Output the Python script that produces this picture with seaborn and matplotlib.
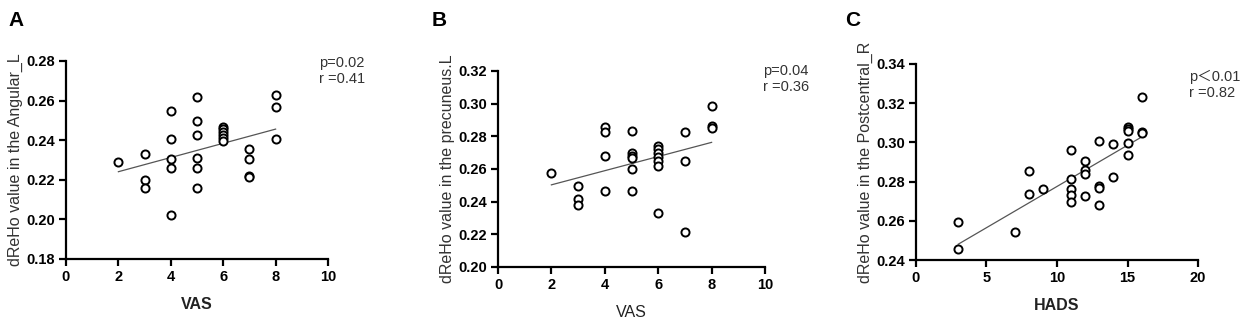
import numpy as np
import pandas as pd
import matplotlib
matplotlib.use("Agg")
import matplotlib.pyplot as plt
import seaborn as sns

# panel A: VAS vs dReHo (Angular_L)
vas_a = [2, 3, 3, 3, 4, 4, 4, 4, 4, 5, 5, 5, 5, 5, 5,
         6, 6, 6, 6, 6, 6, 7, 7, 7, 7, 8, 8, 8]
reho_a = [0.2288, 0.2330, 0.2200, 0.2157, 0.2546, 0.2406, 0.2303, 0.2261, 0.2022,
          0.2618, 0.2495, 0.2425, 0.2312, 0.2261, 0.2160,
          0.2468, 0.2455, 0.2440, 0.2425, 0.2410, 0.2395,
          0.2354, 0.2307, 0.2221, 0.2216, 0.2630, 0.2568, 0.2406]

# panel B: VAS vs dReHo (precuneus.L)
vas_b = [2, 3, 3, 3, 4, 4, 4, 4, 5, 5, 5, 5, 5, 5,
         6, 6, 6, 6, 6, 6, 6, 7, 7, 7, 8, 8, 8]
reho_b = [0.2574, 0.2497, 0.2418, 0.2381, 0.2860, 0.2829, 0.2682, 0.2467,
          0.2833, 0.2697, 0.2682, 0.2666, 0.2603, 0.2467,
          0.2742, 0.2721, 0.2701, 0.2672, 0.2646, 0.2619, 0.2328,
          0.2829, 0.2648, 0.2216, 0.2986, 0.2864, 0.2854]

# panel C: HADS vs dReHo (Postcentral_R)
hads_c = [3, 3, 7, 8, 8, 9, 11, 11, 11, 11, 11, 12, 12, 12, 12,
          13, 13, 13, 13, 14, 14, 15, 15, 15, 15, 15, 16, 16, 16]
reho_c = [0.2596, 0.2458, 0.2543, 0.2855, 0.2736, 0.2761,
          0.2959, 0.2813, 0.2761, 0.2732, 0.2698,
          0.2903, 0.2860, 0.2840, 0.2726,
          0.3005, 0.2778, 0.2766, 0.2679,
          0.2993, 0.2824,
          0.3081, 0.3068, 0.3056, 0.2999, 0.2935,
          0.3230, 0.3051, 0.3047]

plt.rcParams['font.family'] = ['Liberation Sans', 'Noto Sans CJK SC', 'DejaVu Sans']

W, H = 1248, 325
fig = plt.figure(figsize=(W / 100, H / 100), dpi=100)

panels = [
    dict(letter="A", x=vas_a, y=reho_a, xlab="VAS", xbold=True,
         ylab="dReHo value in the Angular_L", xlim=(0, 10), xt=[0, 2, 4, 6, 8, 10],
         ylim=(0.18, 0.28), yt=[0.18, 0.20, 0.22, 0.24, 0.26, 0.28],
         stats="p=0.02\nr =0.41", box=(66, 61, 328, 259), letter_x=8, stat_x=319, stat_y=56),
    dict(letter="B", x=vas_b, y=reho_b, xlab="VAS", xbold=False,
         ylab="dReHo value in the precuneus.L", xlim=(0, 10), xt=[0, 2, 4, 6, 8, 10],
         ylim=(0.20, 0.32), yt=[0.20, 0.22, 0.24, 0.26, 0.28, 0.30, 0.32],
         stats="p=0.04\nr =0.36", box=(498, 71, 765, 267), letter_x=432, stat_x=763, stat_y=64),
    dict(letter="C", x=hads_c, y=reho_c, xlab="HADS", xbold=True,
         ylab="dReHo value in the Postcentral_R", xlim=(0, 20), xt=[0, 5, 10, 15, 20],
         ylim=(0.24, 0.34), yt=[0.24, 0.26, 0.28, 0.30, 0.32, 0.34],
         stats="p\uff1c0.01\nr =0.82", box=(916, 64, 1198, 260), letter_x=845, stat_x=1189, stat_y=70),
]

for p in panels:
    x0, y0, x1, y1 = p["box"]
    ax = fig.add_axes([x0 / W, 1 - y1 / H, (x1 - x0) / W, (y1 - y0) / H])
    df = pd.DataFrame({"score": p["x"], "reho": p["y"]})
    sns.regplot(data=df, x="score", y="reho", scatter=False, ci=None, ax=ax,
                line_kws=dict(color="#555555", lw=0.9))
    sns.scatterplot(data=df, x="score", y="reho", ax=ax, s=34,
                    facecolor="white", edgecolor="black", linewidth=1.4, zorder=3)
    ax.set_xlim(*p["xlim"])
    ax.set_ylim(*p["ylim"])
    ax.set_xticks(p["xt"])
    ax.set_yticks(p["yt"])
    ax.set_yticklabels([f"{v:.2f}" for v in p["yt"]])
    for s in ["top", "right"]:
        ax.spines[s].set_visible(False)
    for s in ["left", "bottom"]:
        ax.spines[s].set_linewidth(1.6)
        ax.spines[s].set_color("black")
    ax.tick_params(width=1.6, length=5, direction="out", labelsize=10.5, pad=3)
    for lab in ax.get_xticklabels() + ax.get_yticklabels():
        lab.set_fontweight("bold")
    ax.set_xlabel(p["xlab"], fontsize=11.5, fontweight="bold" if p["xbold"] else "normal",
                  color="#222222", labelpad=9)
    ax.set_ylabel(p["ylab"], fontsize=11.5, color="#333333", labelpad=2)
    ax.patch.set_alpha(0)
    fig.text(p["letter_x"] / W, 1 - 20 / H, p["letter"], fontsize=15, fontweight="bold",
             va="center", ha="left")
    fig.text(p["stat_x"] / W, 1 - p["stat_y"] / H, p["stats"], fontsize=10.5,
             color="#333333", va="top", ha="left", linespacing=1.15)

fig.savefig("out.png", dpi=100)
